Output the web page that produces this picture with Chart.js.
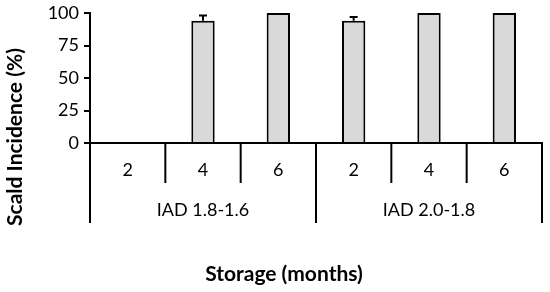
<!DOCTYPE html>
<html><head><meta charset="utf-8">
<script src="https://cdn.jsdelivr.net/npm/chart.js@4/dist/chart.umd.min.js"></script>
<style>html,body{margin:0;padding:0;background:#fff}#wrap{width:550px;height:292px}</style>
</head><body><div id="wrap"><canvas id="c" width="550" height="292"></canvas></div>
<script>
const categories = ['2', '4', '6', '2', '4', '6'];
const groups = ['IAD 1.8-1.6', 'IAD 2.0-1.8'];
const groupSize = 3;
const scaldIncidence = [0, 94, 100, 94, 100, 100];
const scaldError = [0, 4, 0, 3, 0, 0];
const yTicks = [0, 25, 50, 75, 100];
const yTitle = 'Scald Incidence (%)';
const xTitle = 'Storage (months)';

const FONT = 'Lato, "Liberation Sans", sans-serif';

const decor = {
  id: 'decor',
  afterDatasetsDraw(chart) {
    const ctx = chart.ctx, x = chart.scales.x, y = chart.scales.y, a = chart.chartArea;
    ctx.save();
    // error bars
    const meta = chart.getDatasetMeta(0);
    ctx.strokeStyle = '#000'; ctx.lineWidth = 2;
    scaldError.forEach((e, i) => {
      if (!e) return;
      const bar = meta.data[i];
      const top = y.getPixelForValue(scaldIncidence[i] + e);
      const base = y.getPixelForValue(scaldIncidence[i]);
      ctx.beginPath();
      ctx.moveTo(bar.x, base); ctx.lineTo(bar.x, top);
      ctx.moveTo(bar.x - 4, top); ctx.lineTo(bar.x + 4, top);
      ctx.stroke();
    });
    // category dividers & labels
    const bottom = a.bottom;
    const n = categories.length;
    const half = (x.getPixelForValue(1) - x.getPixelForValue(0)) / 2;
    ctx.lineWidth = 2;
    for (let i = 0; i <= n; i++) {
      const px = (i < n ? x.getPixelForValue(i) - half : x.getPixelForValue(n - 1) + half);
      const isGroup = i % groupSize === 0;
      ctx.beginPath();
      ctx.moveTo(px, bottom);
      ctx.lineTo(px, bottom + (isGroup ? 80 : 40));
      ctx.stroke();
    }
    ctx.fillStyle = '#000';
    ctx.textAlign = 'center'; ctx.textBaseline = 'middle';
    ctx.font = '18px ' + FONT;
    categories.forEach((c, i) => ctx.fillText(c, x.getPixelForValue(i), bottom + 27));
    groups.forEach((g, gi) => {
      const c = (x.getPixelForValue(gi * groupSize) + x.getPixelForValue(gi * groupSize + groupSize - 1)) / 2;
      ctx.fillText(g, c, bottom + 67);
    });
    // titles
    ctx.font = 'bold 21px ' + FONT;
    ctx.fillText(xTitle, 284, 274);
    ctx.translate(15, 137);
    ctx.rotate(-Math.PI / 2);
    ctx.fillText(yTitle, 0, 0);
    ctx.restore();
  }
};

new Chart(document.getElementById('c'), {
  type: 'bar',
  data: {
    labels: categories,
    datasets: [{
      data: scaldIncidence,
      backgroundColor: '#d9d9d9',
      borderColor: '#000',
      borderWidth: 2,
      barPercentage: 0.31,
      categoryPercentage: 1
    }]
  },
  options: {
    responsive: false,
    animation: false,
    devicePixelRatio: 1,
    layout: { padding: { top: 13, right: 8, bottom: 149, left: 0 } },
    plugins: { legend: { display: false }, tooltip: { enabled: false } },
    scales: {
      x: {
        ticks: { display: false },
        grid: { display: false, drawTicks: false },
        border: { display: true, color: '#000', width: 2 }
      },
      y: {
        min: 0, max: 100,
        afterFit(s) { s.width = 90; s.paddingTop = 0; s.paddingBottom = 0; },
        afterBuildTicks(s) { s.ticks = yTicks.map(v => ({ value: v })); },
        ticks: { color: '#000', font: { size: 18, family: FONT }, padding: 5 },
        grid: { drawOnChartArea: false, drawTicks: true, tickLength: 6, color: '#000', lineWidth: 2 },
        border: { display: true, color: '#000', width: 2 }
      }
    }
  },
  plugins: [decor]
});
</script></body></html>
